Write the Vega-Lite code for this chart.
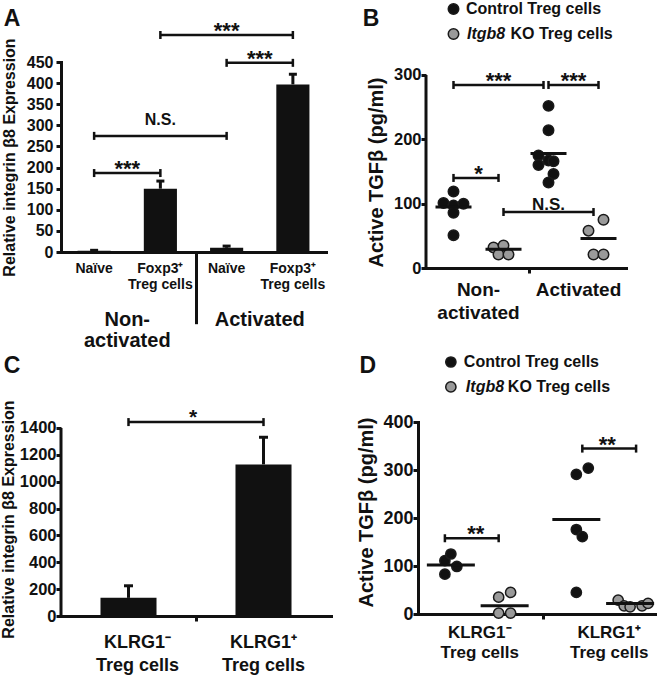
{
"$schema": "https://vega.github.io/schema/vega-lite/v6.json",
"padding": {"left": 0, "top": 0, "right": 0, "bottom": 0},
"background": "white",
"config": {
  "view": {"stroke": null},
  "font": "Liberation Sans",
  "axis": {"domainColor": "#111", "domainWidth": 3, "tickColor": "#111", "tickWidth": 3, "labelColor": "#111", "labelFontWeight": "bold", "titleColor": "#111", "titleFontWeight": "bold", "labelFont": "Liberation Sans", "titleFont": "Liberation Sans", "grid": false, "domainCap": "square", "labelOverlap": false},
  "text": {"font": "Liberation Sans", "fontWeight": "bold", "color": "#111"}
},
"spacing": 1,
"vconcat": [
{
"hconcat": [
{
"width": 265, "height": 190,
"layer": [
 {"data": {"values": [{"k":"N1","v":3,"up":4},{"k":"F1","v":150,"up":168},{"k":"N2","v":10,"up":14},{"k":"F2","v":397,"up":421}]},
  "layer": [
   {"mark": {"type":"bar","width":{"band":0.5},"color":"#111"},
    "encoding": {
     "x": {"field":"k","type":"nominal","scale":{"domain":["N1","F1","N2","F2"],"paddingInner":0,"paddingOuter":0},
           "axis":{"title":null,"ticks":false,"labelAngle":0,"labelFontSize":14,"labelLineHeight":16,"labelPadding":9,"labelExpr":"(datum.value == 'N1' || datum.value == 'N2') ? 'Naïve' : ['Foxp3⁺', 'Treg cells']"}},
     "y": {"field":"v","type":"quantitative","scale":{"domain":[0,450],"nice":false},
           "axis":{"title":"Relative integrin β8 Expression","values":[0,50,100,150,200,250,300,350,400,450],"tickCount":20,"labelOverlap":false,"format":"d","titleFontSize":16,"labelFontSize":16,"tickSize":5,"labelPadding":3,"titlePadding":9}}
    }},
   {"mark": {"type":"rule","color":"#111","strokeWidth":3},
    "encoding": {"x":{"field":"k","type":"nominal","scale":{"domain":["N1","F1","N2","F2"],"paddingInner":0,"paddingOuter":0}},"y":{"field":"v","type":"quantitative","scale":{"domain":[0,450],"nice":false}},"y2":{"field":"up"}}},
   {"mark": {"type":"point","shape":"M-1,0L1,0","size":64,"strokeWidth":3,"color":"#111","opacity":1},
    "encoding": {"x":{"field":"k","type":"nominal","scale":{"domain":["N1","F1","N2","F2"],"paddingInner":0,"paddingOuter":0}},"y":{"field":"up","type":"quantitative","scale":{"domain":[0,450],"nice":false}}}}
  ]},
 {"data": {"values": [
   {"a":"N1","b":"F1","y":187,"t":"***","m":"F1","p":"s"},
   {"a":"N1","b":"N2","y":275,"t":"N.S.","m":"F1","p":"c"},
   {"a":"N2","b":"F2","y":448,"t":"***","m":"F2","p":"s"},
   {"a":"F1","b":"F2","y":514,"t":"***","m":"N2","p":"c"}]},
  "layer": [
   {"mark": {"type":"rule","color":"#111","strokeWidth":2.5},
    "encoding": {"x":{"field":"a","type":"nominal","scale":{"domain":["N1","F1","N2","F2"],"paddingInner":0,"paddingOuter":0}},"x2":{"field":"b"},"y":{"field":"y","type":"quantitative","scale":{"domain":[0,450],"nice":false}}}},
   {"mark": {"type":"point","shape":"M0,-1L0,1","size":64,"strokeWidth":2.5,"color":"#111","opacity":1},
    "encoding": {"x":{"field":"a","type":"nominal","scale":{"domain":["N1","F1","N2","F2"],"paddingInner":0,"paddingOuter":0}},"y":{"field":"y","type":"quantitative","scale":{"domain":[0,450],"nice":false}}}},
   {"mark": {"type":"point","shape":"M0,-1L0,1","size":64,"strokeWidth":2.5,"color":"#111","opacity":1},
    "encoding": {"x":{"field":"b","type":"nominal","scale":{"domain":["N1","F1","N2","F2"],"paddingInner":0,"paddingOuter":0}},"y":{"field":"y","type":"quantitative","scale":{"domain":[0,450],"nice":false}}}},
   {"transform": [{"filter":"datum.p == 's'"}],
    "mark": {"type":"text","fontSize":22,"baseline":"alphabetic","dy":3},
    "encoding": {"x":{"field":"m","type":"nominal","bandPosition":0,"scale":{"domain":["N1","F1","N2","F2"],"paddingInner":0,"paddingOuter":0}},"y":{"field":"y","type":"quantitative","scale":{"domain":[0,450],"nice":false}},"text":{"field":"t"}}},
   {"transform": [{"filter":"datum.p == 'c' && datum.t != 'N.S.'"}],
    "mark": {"type":"text","fontSize":22,"baseline":"alphabetic","dy":3},
    "encoding": {"x":{"field":"m","type":"nominal","scale":{"domain":["N1","F1","N2","F2"],"paddingInner":0,"paddingOuter":0}},"y":{"field":"y","type":"quantitative","scale":{"domain":[0,450],"nice":false}},"text":{"field":"t"}}},
   {"transform": [{"filter":"datum.t == 'N.S.'"}],
    "mark": {"type":"text","fontSize":16,"baseline":"alphabetic","dy":-11},
    "encoding": {"x":{"field":"m","type":"nominal","scale":{"domain":["N1","F1","N2","F2"],"paddingInner":0,"paddingOuter":0}},"y":{"field":"y","type":"quantitative","scale":{"domain":[0,450],"nice":false}},"text":{"field":"t"}}}
  ]},
 {"data": {"values": [{}]},
  "layer": [
   {"mark": {"type":"rule","strokeWidth":3,"color":"#111","xOffset":3},
    "encoding": {"x":{"datum":"N2","type":"nominal","bandPosition":0,"scale":{"domain":["N1","F1","N2","F2"],"paddingInner":0,"paddingOuter":0}},"y":{"datum":0,"type":"quantitative","scale":{"domain":[0,450],"nice":false}},"y2":{"datum":-171}}},
   {"mark": {"type":"text","text":["Non-","activated"],"fontSize":20,"lineHeight":21,"baseline":"alphabetic"},
    "encoding": {"x":{"datum":"F1","type":"nominal","bandPosition":0,"scale":{"domain":["N1","F1","N2","F2"],"paddingInner":0,"paddingOuter":0}},"y":{"datum":-176,"type":"quantitative","scale":{"domain":[0,450],"nice":false}}}},
   {"mark": {"type":"text","text":"Activated","fontSize":20,"baseline":"alphabetic"},
    "encoding": {"x":{"datum":"F2","type":"nominal","bandPosition":0,"scale":{"domain":["N1","F1","N2","F2"],"paddingInner":0,"paddingOuter":0}},"y":{"datum":-176,"type":"quantitative","scale":{"domain":[0,450],"nice":false}}}},
   {"mark": {"type":"text","text":"A","fontSize":23,"baseline":"middle","dx":-82},
    "encoding": {"x":{"datum":"N1","type":"nominal","scale":{"domain":["N1","F1","N2","F2"],"paddingInner":0,"paddingOuter":0}},"y":{"datum":552,"type":"quantitative","scale":{"domain":[0,450],"nice":false}}}}
  ]}
]
},
{
"width": 200, "height": 206,
"layer": [
 {"data": {"values": [
   {"grp":"NC","s":"s5","gen":"C","v":119},
   {"grp":"NC","s":"s3","gen":"C","v":101},
   {"grp":"NC","s":"s7","gen":"C","v":100},
   {"grp":"NC","s":"s5","gen":"C","v":97},
   {"grp":"NC","s":"s5","gen":"C","v":86},
   {"grp":"NC","s":"s5","gen":"C","v":51},
   {"grp":"NK","s":"s13","gen":"K","v":32},
   {"grp":"NK","s":"s15","gen":"K","v":35},
   {"grp":"NK","s":"s14","gen":"K","v":21},
   {"grp":"NK","s":"s16","gen":"K","v":21},
   {"grp":"AC","s":"s24","gen":"C","v":252},
   {"grp":"AC","s":"s24","gen":"C","v":214},
   {"grp":"AC","s":"s22","gen":"C","v":175},
   {"grp":"AC","s":"s24","gen":"C","v":167},
   {"grp":"AC","s":"s25","gen":"C","v":166},
   {"grp":"AC","s":"s22","gen":"C","v":160},
   {"grp":"AC","s":"s25","gen":"C","v":146},
   {"grp":"AC","s":"s24","gen":"C","v":133},
   {"grp":"AK","s":"s32","gen":"K","v":58},
   {"grp":"AK","s":"s35","gen":"K","v":75},
   {"grp":"AK","s":"s33","gen":"K","v":21},
   {"grp":"AK","s":"s35","gen":"K","v":21}]},
  "mark": {"type":"point","filled":true,"size":110,"stroke":"#1a1a1a","strokeWidth":1.5,"opacity":1},
  "encoding": {
   "x": {"field":"s","type":"nominal","scale":{"domain":["s0","s1","s2","s3","s4","s5","s6","s7","s8","s9","s10","s11","s12","s13","s14","s15","s16","s17","s18","s19","s20","s21","s22","s23","s24","s25","s26","s27","s28","s29","s30","s31","s32","s33","s34","s35","s36","s37","s38","s39"],"paddingInner":0,"paddingOuter":0},
         "axis":{"title":null,"labels":false,"values":["s20"],"bandPosition":0.6,"tickSize":5}},
   "y": {"field":"v","type":"quantitative","scale":{"domain":[0,320.2],"nice":false},
         "axis":{"title":"Active TGFβ (pg/ml)","values":[0,100,200,300],"tickCount":20,"labelOverlap":false,"format":"d","domain":false,"titleFontSize":20,"labelFontSize":16.5,"tickSize":5,"labelPadding":0,"titlePadding":7,"titleY":110}},
   "fill": {"field":"gen","type":"nominal","scale":{"domain":["C","K"],"range":["#111111","#9a9a9a"]},"legend":null}
  }},
 {"data": {"values": [{"s":"s5","m":95},{"s":"s15","m":29},{"s":"s24","m":178},{"s":"s34","m":46}]},
  "mark": {"type":"tick","size":36,"thickness":3,"color":"#111","opacity":1},
  "encoding": {"x":{"field":"s","type":"nominal","scale":{"domain":["s0","s1","s2","s3","s4","s5","s6","s7","s8","s9","s10","s11","s12","s13","s14","s15","s16","s17","s18","s19","s20","s21","s22","s23","s24","s25","s26","s27","s28","s29","s30","s31","s32","s33","s34","s35","s36","s37","s38","s39"],"paddingInner":0,"paddingOuter":0}},"y":{"field":"m","type":"quantitative","scale":{"domain":[0,320.2],"nice":false}}}},
 {"data": {"values": [
   {"a":"s5","b":"s23","y":284.5,"t":"***","m":"s14"},
   {"a":"s24","b":"s34","y":284.5,"t":"***","m":"s29"},
   {"a":"s5","b":"s14","y":140,"t":"*","m":"s10"},
   {"a":"s15","b":"s33","y":87,"t":"N.S.","m":"s24"}]},
  "layer": [
   {"mark": {"type":"rule","color":"#111","strokeWidth":2.5},
    "encoding": {"x":{"field":"a","type":"nominal","scale":{"domain":["s0","s1","s2","s3","s4","s5","s6","s7","s8","s9","s10","s11","s12","s13","s14","s15","s16","s17","s18","s19","s20","s21","s22","s23","s24","s25","s26","s27","s28","s29","s30","s31","s32","s33","s34","s35","s36","s37","s38","s39"],"paddingInner":0,"paddingOuter":0}},"x2":{"field":"b"},"y":{"field":"y","type":"quantitative","scale":{"domain":[0,320.2],"nice":false}}}},
   {"mark": {"type":"point","shape":"M0,-1L0,1","size":64,"strokeWidth":2.5,"color":"#111","opacity":1},
    "encoding": {"x":{"field":"a","type":"nominal","scale":{"domain":["s0","s1","s2","s3","s4","s5","s6","s7","s8","s9","s10","s11","s12","s13","s14","s15","s16","s17","s18","s19","s20","s21","s22","s23","s24","s25","s26","s27","s28","s29","s30","s31","s32","s33","s34","s35","s36","s37","s38","s39"],"paddingInner":0,"paddingOuter":0}},"y":{"field":"y","type":"quantitative","scale":{"domain":[0,320.2],"nice":false}}}},
   {"mark": {"type":"point","shape":"M0,-1L0,1","size":64,"strokeWidth":2.5,"color":"#111","opacity":1},
    "encoding": {"x":{"field":"b","type":"nominal","scale":{"domain":["s0","s1","s2","s3","s4","s5","s6","s7","s8","s9","s10","s11","s12","s13","s14","s15","s16","s17","s18","s19","s20","s21","s22","s23","s24","s25","s26","s27","s28","s29","s30","s31","s32","s33","s34","s35","s36","s37","s38","s39"],"paddingInner":0,"paddingOuter":0}},"y":{"field":"y","type":"quantitative","scale":{"domain":[0,320.2],"nice":false}}}},
   {"transform": [{"filter":"datum.t != 'N.S.'"}],
    "mark": {"type":"text","fontSize":22,"baseline":"alphabetic","dy":3},
    "encoding": {"x":{"field":"m","type":"nominal","scale":{"domain":["s0","s1","s2","s3","s4","s5","s6","s7","s8","s9","s10","s11","s12","s13","s14","s15","s16","s17","s18","s19","s20","s21","s22","s23","s24","s25","s26","s27","s28","s29","s30","s31","s32","s33","s34","s35","s36","s37","s38","s39"],"paddingInner":0,"paddingOuter":0}},"y":{"field":"y","type":"quantitative","scale":{"domain":[0,320.2],"nice":false}},"text":{"field":"t"}}},
   {"transform": [{"filter":"datum.t == 'N.S.'"}],
    "mark": {"type":"text","fontSize":17,"baseline":"alphabetic","dy":-2},
    "encoding": {"x":{"field":"m","type":"nominal","scale":{"domain":["s0","s1","s2","s3","s4","s5","s6","s7","s8","s9","s10","s11","s12","s13","s14","s15","s16","s17","s18","s19","s20","s21","s22","s23","s24","s25","s26","s27","s28","s29","s30","s31","s32","s33","s34","s35","s36","s37","s38","s39"],"paddingInner":0,"paddingOuter":0}},"y":{"field":"y","type":"quantitative","scale":{"domain":[0,320.2],"nice":false}},"text":{"field":"t"}}}
  ]},
 {"data": {"values": [{}]},
  "layer": [
   {"mark": {"type":"rule","strokeWidth":3,"color":"#111"},
    "encoding": {"x":{"datum":"s0","type":"nominal","bandPosition":0,"scale":{"domain":["s0","s1","s2","s3","s4","s5","s6","s7","s8","s9","s10","s11","s12","s13","s14","s15","s16","s17","s18","s19","s20","s21","s22","s23","s24","s25","s26","s27","s28","s29","s30","s31","s32","s33","s34","s35","s36","s37","s38","s39"],"paddingInner":0,"paddingOuter":0}},"y":{"datum":0,"type":"quantitative","scale":{"domain":[0,320.2],"nice":false}},"y2":{"datum":300}}},
   {"mark": {"type":"text","text":["Non-","activated"],"fontSize":19,"lineHeight":23,"baseline":"alphabetic"},
    "encoding": {"x":{"datum":"s10","type":"nominal","scale":{"domain":["s0","s1","s2","s3","s4","s5","s6","s7","s8","s9","s10","s11","s12","s13","s14","s15","s16","s17","s18","s19","s20","s21","s22","s23","s24","s25","s26","s27","s28","s29","s30","s31","s32","s33","s34","s35","s36","s37","s38","s39"],"paddingInner":0,"paddingOuter":0}},"y":{"datum":-43.5,"type":"quantitative","scale":{"domain":[0,320.2],"nice":false}}}},
   {"mark": {"type":"text","text":"Activated","fontSize":19,"baseline":"alphabetic"},
    "encoding": {"x":{"datum":"s30","type":"nominal","scale":{"domain":["s0","s1","s2","s3","s4","s5","s6","s7","s8","s9","s10","s11","s12","s13","s14","s15","s16","s17","s18","s19","s20","s21","s22","s23","s24","s25","s26","s27","s28","s29","s30","s31","s32","s33","s34","s35","s36","s37","s38","s39"],"paddingInner":0,"paddingOuter":0}},"y":{"datum":-43.5,"type":"quantitative","scale":{"domain":[0,320.2],"nice":false}}}},
   {"mark": {"type":"text","text":"B","fontSize":23,"baseline":"middle","dx":-82.5},
    "encoding": {"x":{"datum":"s5","type":"nominal","scale":{"domain":["s0","s1","s2","s3","s4","s5","s6","s7","s8","s9","s10","s11","s12","s13","s14","s15","s16","s17","s18","s19","s20","s21","s22","s23","s24","s25","s26","s27","s28","s29","s30","s31","s32","s33","s34","s35","s36","s37","s38","s39"],"paddingInner":0,"paddingOuter":0}},"y":{"datum":387,"type":"quantitative","scale":{"domain":[0,320.2],"nice":false}}}},
   {"mark": {"type":"point","filled":true,"size":110,"stroke":"#1a1a1a","strokeWidth":1.5,"opacity":1,"fill":"#111111"},
    "encoding": {"x":{"datum":"s5","type":"nominal","scale":{"domain":["s0","s1","s2","s3","s4","s5","s6","s7","s8","s9","s10","s11","s12","s13","s14","s15","s16","s17","s18","s19","s20","s21","s22","s23","s24","s25","s26","s27","s28","s29","s30","s31","s32","s33","s34","s35","s36","s37","s38","s39"],"paddingInner":0,"paddingOuter":0}},"y":{"datum":402.6,"type":"quantitative","scale":{"domain":[0,320.2],"nice":false}}}},
   {"mark": {"type":"point","filled":true,"size":110,"stroke":"#1a1a1a","strokeWidth":1.5,"opacity":1,"fill":"#9a9a9a"},
    "encoding": {"x":{"datum":"s5","type":"nominal","scale":{"domain":["s0","s1","s2","s3","s4","s5","s6","s7","s8","s9","s10","s11","s12","s13","s14","s15","s16","s17","s18","s19","s20","s21","s22","s23","s24","s25","s26","s27","s28","s29","s30","s31","s32","s33","s34","s35","s36","s37","s38","s39"],"paddingInner":0,"paddingOuter":0}},"y":{"datum":363.7,"type":"quantitative","scale":{"domain":[0,320.2],"nice":false}}}},
   {"mark": {"type":"text","text":"Control Treg cells","fontSize":16,"baseline":"middle","align":"left","dx":12.5},
    "encoding": {"x":{"datum":"s5","type":"nominal","scale":{"domain":["s0","s1","s2","s3","s4","s5","s6","s7","s8","s9","s10","s11","s12","s13","s14","s15","s16","s17","s18","s19","s20","s21","s22","s23","s24","s25","s26","s27","s28","s29","s30","s31","s32","s33","s34","s35","s36","s37","s38","s39"],"paddingInner":0,"paddingOuter":0}},"y":{"datum":402.6,"type":"quantitative","scale":{"domain":[0,320.2],"nice":false}}}},
   {"mark": {"type":"text","text":"Itgb8","fontStyle":"italic","fontSize":16,"baseline":"middle","align":"left","dx":13.5},
    "encoding": {"x":{"datum":"s5","type":"nominal","scale":{"domain":["s0","s1","s2","s3","s4","s5","s6","s7","s8","s9","s10","s11","s12","s13","s14","s15","s16","s17","s18","s19","s20","s21","s22","s23","s24","s25","s26","s27","s28","s29","s30","s31","s32","s33","s34","s35","s36","s37","s38","s39"],"paddingInner":0,"paddingOuter":0}},"y":{"datum":363.7,"type":"quantitative","scale":{"domain":[0,320.2],"nice":false}}}},
   {"mark": {"type":"text","text":"KO Treg cells","fontSize":16,"baseline":"middle","align":"left","dx":57},
    "encoding": {"x":{"datum":"s5","type":"nominal","scale":{"domain":["s0","s1","s2","s3","s4","s5","s6","s7","s8","s9","s10","s11","s12","s13","s14","s15","s16","s17","s18","s19","s20","s21","s22","s23","s24","s25","s26","s27","s28","s29","s30","s31","s32","s33","s34","s35","s36","s37","s38","s39"],"paddingInner":0,"paddingOuter":0}},"y":{"datum":363.7,"type":"quantitative","scale":{"domain":[0,320.2],"nice":false}}}}
  ]}
]
}
],
"spacing": 100,
"bounds": "flush"
},
{
"hconcat": [
{
"width": 270, "height": 194,
"layer": [
 {"data": {"values": [{"k":"m","v":135,"up":225},{"k":"p","v":1129,"up":1331}]},
  "layer": [
   {"mark": {"type":"bar","width":{"band":0.415},"color":"#111"},
    "encoding": {
     "x": {"field":"k","type":"nominal","scale":{"domain":["m","p"],"paddingInner":0,"paddingOuter":0},
           "axis":{"title":null,"labels":false,"values":["p"],"bandPosition":0,"tickSize":5}},
     "y": {"field":"v","type":"quantitative","scale":{"domain":[0,1444.6],"nice":false},
           "axis":{"title":"Relative integrin β8 Expression","values":[0,200,400,600,800,1000,1200,1400],"tickCount":20,"labelOverlap":false,"format":"d","domain":false,"titleFontSize":16,"labelFontSize":16.5,"tickSize":5,"labelPadding":0,"titlePadding":2.5}}
    }},
   {"mark": {"type":"rule","color":"#111","strokeWidth":3},
    "encoding": {"x":{"field":"k","type":"nominal","scale":{"domain":["m","p"],"paddingInner":0,"paddingOuter":0}},"y":{"field":"v","type":"quantitative","scale":{"domain":[0,1444.6],"nice":false}},"y2":{"field":"up"}}},
   {"mark": {"type":"point","shape":"M-1,0L1,0","size":81,"strokeWidth":3,"color":"#111","opacity":1},
    "encoding": {"x":{"field":"k","type":"nominal","scale":{"domain":["m","p"],"paddingInner":0,"paddingOuter":0}},"y":{"field":"up","type":"quantitative","scale":{"domain":[0,1444.6],"nice":false}}}}
  ]},
 {"data": {"values": [{"a":"m","b":"p","y":1444,"t":"*"}]},
  "layer": [
   {"mark": {"type":"rule","color":"#111","strokeWidth":2.5},
    "encoding": {"x":{"field":"a","type":"nominal","scale":{"domain":["m","p"],"paddingInner":0,"paddingOuter":0}},"x2":{"field":"b"},"y":{"field":"y","type":"quantitative","scale":{"domain":[0,1444.6],"nice":false}}}},
   {"mark": {"type":"point","shape":"M0,-1L0,1","size":64,"strokeWidth":2.5,"color":"#111","opacity":1},
    "encoding": {"x":{"field":"a","type":"nominal","scale":{"domain":["m","p"],"paddingInner":0,"paddingOuter":0}},"y":{"field":"y","type":"quantitative","scale":{"domain":[0,1444.6],"nice":false}}}},
   {"mark": {"type":"point","shape":"M0,-1L0,1","size":64,"strokeWidth":2.5,"color":"#111","opacity":1},
    "encoding": {"x":{"field":"b","type":"nominal","scale":{"domain":["m","p"],"paddingInner":0,"paddingOuter":0}},"y":{"field":"y","type":"quantitative","scale":{"domain":[0,1444.6],"nice":false}}}},
   {"mark": {"type":"text","fontSize":21,"baseline":"alphabetic","dy":2,"dx":-3},
    "encoding": {"x":{"field":"b","type":"nominal","bandPosition":0,"scale":{"domain":["m","p"],"paddingInner":0,"paddingOuter":0}},"y":{"field":"y","type":"quantitative","scale":{"domain":[0,1444.6],"nice":false}},"text":{"field":"t"}}}
  ]},
 {"data": {"values": [{}]},
  "layer": [
   {"mark": {"type":"rule","strokeWidth":3,"color":"#111"},
    "encoding": {"x":{"datum":"m","type":"nominal","bandPosition":0,"scale":{"domain":["m","p"],"paddingInner":0,"paddingOuter":0}},"y":{"datum":0,"type":"quantitative","scale":{"domain":[0,1444.6],"nice":false}},"y2":{"datum":1400}}},
   {"mark": {"type":"text","text":["KLRG1⁻","Treg cells"],"fontSize":18,"lineHeight":23,"baseline":"alphabetic","dx":9},
    "encoding": {"x":{"datum":"m","type":"nominal","scale":{"domain":["m","p"],"paddingInner":0,"paddingOuter":0}},"y":{"datum":-236,"type":"quantitative","scale":{"domain":[0,1444.6],"nice":false}}}},
   {"mark": {"type":"text","text":["KLRG1⁺","Treg cells"],"fontSize":18,"lineHeight":23,"baseline":"alphabetic","dx":0},
    "encoding": {"x":{"datum":"p","type":"nominal","scale":{"domain":["m","p"],"paddingInner":0,"paddingOuter":0}},"y":{"datum":-236,"type":"quantitative","scale":{"domain":[0,1444.6],"nice":false}}}},
   {"mark": {"type":"text","text":"C","fontSize":23,"baseline":"middle","dx":-116.5},
    "encoding": {"x":{"datum":"m","type":"nominal","scale":{"domain":["m","p"],"paddingInner":0,"paddingOuter":0}},"y":{"datum":1861.6,"type":"quantitative","scale":{"domain":[0,1444.6],"nice":false}}}}
  ]}
]
},
{
"width": 239, "height": 192,
"layer": [
 {"data": {"values": [
   {"grp":"mC","s":"s4","gen":"C","v":111},
   {"grp":"mC","s":"s4","gen":"C","v":83},
   {"grp":"mC","s":"s5","gen":"C","v":125},
   {"grp":"mC","s":"s6","gen":"C","v":99},
   {"grp":"mK","s":"s13","gen":"K","v":35},
   {"grp":"mK","s":"s15","gen":"K","v":45},
   {"grp":"mK","s":"s13","gen":"K","v":2},
   {"grp":"mK","s":"s15","gen":"K","v":2},
   {"grp":"pC","s":"s26","gen":"C","v":291},
   {"grp":"pC","s":"s28","gen":"C","v":304},
   {"grp":"pC","s":"s26","gen":"C","v":176},
   {"grp":"pC","s":"s27","gen":"C","v":161},
   {"grp":"pC","s":"s26","gen":"C","v":45},
   {"grp":"pK","s":"s33","gen":"K","v":29},
   {"grp":"pK","s":"s34","gen":"K","v":17},
   {"grp":"pK","s":"s35","gen":"K","v":15},
   {"grp":"pK","s":"s37","gen":"K","v":17},
   {"grp":"pK","s":"s38","gen":"K","v":22}]},
  "mark": {"type":"point","filled":true,"size":105,"stroke":"#1a1a1a","strokeWidth":1.5,"opacity":1},
  "encoding": {
   "x": {"field":"s","type":"nominal","scale":{"domain":["s0","s1","s2","s3","s4","s5","s6","s7","s8","s9","s10","s11","s12","s13","s14","s15","s16","s17","s18","s19","s20","s21","s22","s23","s24","s25","s26","s27","s28","s29","s30","s31","s32","s33","s34","s35","s36","s37","s38","s39"],"paddingInner":0,"paddingOuter":0},
         "axis":{"title":null,"labels":false,"values":["s21"],"bandPosition":0,"tickSize":5}},
   "y": {"field":"v","type":"quantitative","scale":{"domain":[0,400],"nice":false},
         "axis":{"title":"Active TGFβ (pg/ml)","values":[0,100,200,300,400],"tickCount":20,"labelOverlap":false,"format":"d","titleFontSize":20,"labelFontSize":18,"tickSize":5,"labelPadding":0,"titlePadding":6,"titleY":90}},
   "fill": {"field":"gen","type":"nominal","scale":{"domain":["C","K"],"range":["#111111","#9a9a9a"]},"legend":null}
  }},
 {"data": {"values": [{"s":"s5","m":102},{"s":"s14","m":17},{"s":"s26","m":197},{"s":"s35","m":22}]},
  "mark": {"type":"tick","size":48,"thickness":3,"color":"#111","opacity":1},
  "encoding": {
   "x": {"field":"s","type":"nominal","scale":{"domain":["s0","s1","s2","s3","s4","s5","s6","s7","s8","s9","s10","s11","s12","s13","s14","s15","s16","s17","s18","s19","s20","s21","s22","s23","s24","s25","s26","s27","s28","s29","s30","s31","s32","s33","s34","s35","s36","s37","s38","s39"],"paddingInner":0,"paddingOuter":0}},
   "y": {"field":"m","type":"quantitative","scale":{"domain":[0,400],"nice":false}}}},
 {"data": {"values": [{"a":"s4","b":"s13","y":157.8,"t":"**","m":"s9"},{"a":"s27","b":"s36","y":344.6,"t":"**","m":"s31"}]},
  "layer": [
   {"mark": {"type":"rule","color":"#111","strokeWidth":2.5},
    "encoding": {"x":{"field":"a","type":"nominal","scale":{"domain":["s0","s1","s2","s3","s4","s5","s6","s7","s8","s9","s10","s11","s12","s13","s14","s15","s16","s17","s18","s19","s20","s21","s22","s23","s24","s25","s26","s27","s28","s29","s30","s31","s32","s33","s34","s35","s36","s37","s38","s39"],"paddingInner":0,"paddingOuter":0}},"x2":{"field":"b"},"y":{"field":"y","type":"quantitative","scale":{"domain":[0,400],"nice":false}}}},
   {"mark": {"type":"point","shape":"M0,-1L0,1","size":64,"strokeWidth":2.5,"color":"#111","opacity":1},
    "encoding": {"x":{"field":"a","type":"nominal","scale":{"domain":["s0","s1","s2","s3","s4","s5","s6","s7","s8","s9","s10","s11","s12","s13","s14","s15","s16","s17","s18","s19","s20","s21","s22","s23","s24","s25","s26","s27","s28","s29","s30","s31","s32","s33","s34","s35","s36","s37","s38","s39"],"paddingInner":0,"paddingOuter":0}},"y":{"field":"y","type":"quantitative","scale":{"domain":[0,400],"nice":false}}}},
   {"mark": {"type":"point","shape":"M0,-1L0,1","size":64,"strokeWidth":2.5,"color":"#111","opacity":1},
    "encoding": {"x":{"field":"b","type":"nominal","scale":{"domain":["s0","s1","s2","s3","s4","s5","s6","s7","s8","s9","s10","s11","s12","s13","s14","s15","s16","s17","s18","s19","s20","s21","s22","s23","s24","s25","s26","s27","s28","s29","s30","s31","s32","s33","s34","s35","s36","s37","s38","s39"],"paddingInner":0,"paddingOuter":0}},"y":{"field":"y","type":"quantitative","scale":{"domain":[0,400],"nice":false}}}},
   {"mark": {"type":"text","fontSize":22,"baseline":"alphabetic","dy":3,"dx":1},
    "encoding": {"x":{"field":"m","type":"nominal","scale":{"domain":["s0","s1","s2","s3","s4","s5","s6","s7","s8","s9","s10","s11","s12","s13","s14","s15","s16","s17","s18","s19","s20","s21","s22","s23","s24","s25","s26","s27","s28","s29","s30","s31","s32","s33","s34","s35","s36","s37","s38","s39"],"paddingInner":0,"paddingOuter":0}},"y":{"field":"y","type":"quantitative","scale":{"domain":[0,400],"nice":false}},"text":{"field":"t"}}}
  ]},
 {"data": {"values": [{}]},
  "layer": [
   {"mark": {"type":"text","text":["KLRG1⁻","Treg cells"],"fontSize":17,"lineHeight":20,"baseline":"alphabetic","dx":-1},
    "encoding": {"x":{"datum":"s10","type":"nominal","scale":{"domain":["s0","s1","s2","s3","s4","s5","s6","s7","s8","s9","s10","s11","s12","s13","s14","s15","s16","s17","s18","s19","s20","s21","s22","s23","s24","s25","s26","s27","s28","s29","s30","s31","s32","s33","s34","s35","s36","s37","s38","s39"],"paddingInner":0,"paddingOuter":0}},"y":{"datum":-50,"type":"quantitative","scale":{"domain":[0,400],"nice":false}}}},
   {"mark": {"type":"text","text":["KLRG1⁺","Treg cells"],"fontSize":17,"lineHeight":20,"baseline":"alphabetic","dx":3},
    "encoding": {"x":{"datum":"s31","type":"nominal","scale":{"domain":["s0","s1","s2","s3","s4","s5","s6","s7","s8","s9","s10","s11","s12","s13","s14","s15","s16","s17","s18","s19","s20","s21","s22","s23","s24","s25","s26","s27","s28","s29","s30","s31","s32","s33","s34","s35","s36","s37","s38","s39"],"paddingInner":0,"paddingOuter":0}},"y":{"datum":-50,"type":"quantitative","scale":{"domain":[0,400],"nice":false}}}},
   {"mark": {"type":"text","text":"D","fontSize":23,"baseline":"middle","dx":-83},
    "encoding": {"x":{"datum":"s5","type":"nominal","scale":{"domain":["s0","s1","s2","s3","s4","s5","s6","s7","s8","s9","s10","s11","s12","s13","s14","s15","s16","s17","s18","s19","s20","s21","s22","s23","s24","s25","s26","s27","s28","s29","s30","s31","s32","s33","s34","s35","s36","s37","s38","s39"],"paddingInner":0,"paddingOuter":0}},"y":{"datum":516.7,"type":"quantitative","scale":{"domain":[0,400],"nice":false}}}},
   {"mark": {"type":"point","filled":true,"size":105,"stroke":"#1a1a1a","strokeWidth":1.5,"opacity":1,"fill":"#111111"},
    "encoding": {"x":{"datum":"s5","type":"nominal","scale":{"domain":["s0","s1","s2","s3","s4","s5","s6","s7","s8","s9","s10","s11","s12","s13","s14","s15","s16","s17","s18","s19","s20","s21","s22","s23","s24","s25","s26","s27","s28","s29","s30","s31","s32","s33","s34","s35","s36","s37","s38","s39"],"paddingInner":0,"paddingOuter":0}},"y":{"datum":525,"type":"quantitative","scale":{"domain":[0,400],"nice":false}}}},
   {"mark": {"type":"point","filled":true,"size":105,"stroke":"#1a1a1a","strokeWidth":1.5,"opacity":1,"fill":"#9a9a9a"},
    "encoding": {"x":{"datum":"s5","type":"nominal","scale":{"domain":["s0","s1","s2","s3","s4","s5","s6","s7","s8","s9","s10","s11","s12","s13","s14","s15","s16","s17","s18","s19","s20","s21","s22","s23","s24","s25","s26","s27","s28","s29","s30","s31","s32","s33","s34","s35","s36","s37","s38","s39"],"paddingInner":0,"paddingOuter":0}},"y":{"datum":473,"type":"quantitative","scale":{"domain":[0,400],"nice":false}}}},
   {"mark": {"type":"text","text":"Control Treg cells","fontSize":16,"baseline":"middle","align":"left","dx":13},
    "encoding": {"x":{"datum":"s5","type":"nominal","scale":{"domain":["s0","s1","s2","s3","s4","s5","s6","s7","s8","s9","s10","s11","s12","s13","s14","s15","s16","s17","s18","s19","s20","s21","s22","s23","s24","s25","s26","s27","s28","s29","s30","s31","s32","s33","s34","s35","s36","s37","s38","s39"],"paddingInner":0,"paddingOuter":0}},"y":{"datum":525,"type":"quantitative","scale":{"domain":[0,400],"nice":false}}}},
   {"mark": {"type":"text","text":"Itgb8","fontStyle":"italic","fontSize":16,"baseline":"middle","align":"left","dx":15},
    "encoding": {"x":{"datum":"s5","type":"nominal","scale":{"domain":["s0","s1","s2","s3","s4","s5","s6","s7","s8","s9","s10","s11","s12","s13","s14","s15","s16","s17","s18","s19","s20","s21","s22","s23","s24","s25","s26","s27","s28","s29","s30","s31","s32","s33","s34","s35","s36","s37","s38","s39"],"paddingInner":0,"paddingOuter":0}},"y":{"datum":473,"type":"quantitative","scale":{"domain":[0,400],"nice":false}}}},
   {"mark": {"type":"text","text":"KO Treg cells","fontSize":16,"baseline":"middle","align":"left","dx":57},
    "encoding": {"x":{"datum":"s5","type":"nominal","scale":{"domain":["s0","s1","s2","s3","s4","s5","s6","s7","s8","s9","s10","s11","s12","s13","s14","s15","s16","s17","s18","s19","s20","s21","s22","s23","s24","s25","s26","s27","s28","s29","s30","s31","s32","s33","s34","s35","s36","s37","s38","s39"],"paddingInner":0,"paddingOuter":0}},"y":{"datum":473,"type":"quantitative","scale":{"domain":[0,400],"nice":false}}}}
  ]}
]
}
],
"spacing": 87,
"bounds": "flush"
}
]
}
